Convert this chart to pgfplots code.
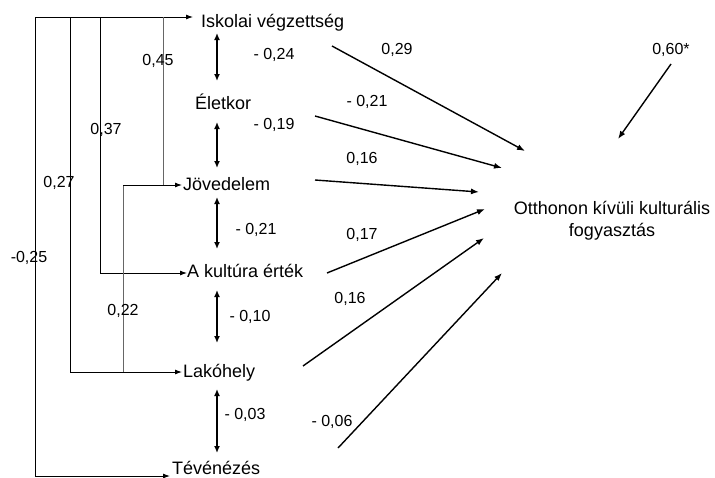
\documentclass[border=0pt]{standalone}
\usepackage{fontspec}
\setmainfont{Liberation Sans}
\usepackage{pgfplots}
\pgfplotsset{compat=1.18}
\usetikzlibrary{arrows.meta}
\tikzset{
    frame/.style={black, line width=0.9pt},
    greyline/.style={gray!80!black, line width=0.9pt},
    fr/.style={frame, -{Latex[length=7pt,width=5pt]}},
    path/.style={black, line width=1.4pt, -{Latex[length=8pt,width=6pt]}},
    corr/.style={black, line width=1.4pt, {Latex[length=7pt,width=6pt]}-{Latex[length=7pt,width=6pt]}},
    lab/.style={font=\fontsize{18}{21}\selectfont, inner sep=0pt, anchor=base west},
    num/.style={font=\fontsize{16}{19}\selectfont, inner sep=0pt}
}
\begin{document}
\begin{tikzpicture}
\begin{axis}[
    width=715pt, height=477pt, scale only axis,
    xmin=0, xmax=715, ymin=0, ymax=477, y dir=reverse,
    hide axis, clip=false
]
% bracket lines on the left
\addplot[fr] coordinates {(35,17) (193,17)};
\addplot[fr] coordinates {(35,17) (35,476) (170,476)};
\addplot[fr] coordinates {(70,17) (70,372) (182,372)};
\addplot[fr] coordinates {(100,17) (100,273) (187,273)};
\addplot[greyline] coordinates {(163,17) (163,185)};
\addplot[greyline] coordinates {(123,372) (123,185)};
\addplot[fr] coordinates {(123,185) (182,185)};

% correlations between neighbours
\addplot[corr] coordinates {(217,33) (217,81)};
\addplot[corr] coordinates {(217,122) (217,168)};
\addplot[corr] coordinates {(217,197) (217,249)};
\addplot[corr] coordinates {(217,290) (217,343)};
\addplot[corr] coordinates {(217,389) (217,453)};

% paths to the outcome
\addplot[path] coordinates {(332,46) (525,151)};
\addplot[path] coordinates {(315,116) (502,168)};
\addplot[path] coordinates {(315,180) (479,192)};
\addplot[path] coordinates {(327,273) (485,209)};
\addplot[path] coordinates {(303,366) (484,238)};
\addplot[path] coordinates {(338,448) (502,273)};
\addplot[path] coordinates {(671,64) (618,139)};

% variable names
\node[lab] at (axis cs:201,27) {Iskolai végzettség};
\node[lab] at (axis cs:195,109) {Életkor};
\node[lab] at (axis cs:183,190) {Jövedelem};
\node[lab] at (axis cs:187,277) {A kultúra érték};
\node[lab] at (axis cs:183,377) {Lakóhely};
\node[lab] at (axis cs:172,474) {Tévénézés};
\node[lab, anchor=base] at (axis cs:612,214) {Otthonon kívüli kulturális};
\node[lab, anchor=base] at (axis cs:612,236) {fogyasztás};

% coefficients
\node[num] at (axis cs:274,55) {- 0,24};
\node[num] at (axis cs:158,61) {0,45};
\node[num] at (axis cs:106,130) {0,37};
\node[num] at (axis cs:274,125) {- 0,19};
\node[num] at (axis cs:59,183) {0,27};
\node[num] at (axis cs:256,230) {- 0,21};
\node[num] at (axis cs:29,258) {-0,25};
\node[num] at (axis cs:123,311) {0,22};
\node[num] at (axis cs:250,317) {- 0,10};
\node[num] at (axis cs:245,415) {- 0,03};
\node[num] at (axis cs:397,50) {0,29};
\node[num] at (axis cs:367,102) {- 0,21};
\node[num] at (axis cs:362,159) {0,16};
\node[num] at (axis cs:362,235) {0,17};
\node[num] at (axis cs:350,299) {0,16};
\node[num] at (axis cs:332,422) {- 0,06};
\node[num] at (axis cs:671,50) {0,60*};

\coordinate (TL) at (axis cs:0,0);
\coordinate (BR) at (axis cs:715,477);
\end{axis}
\pgfresetboundingbox
\path (TL) rectangle (BR);
\end{tikzpicture}
\end{document}
